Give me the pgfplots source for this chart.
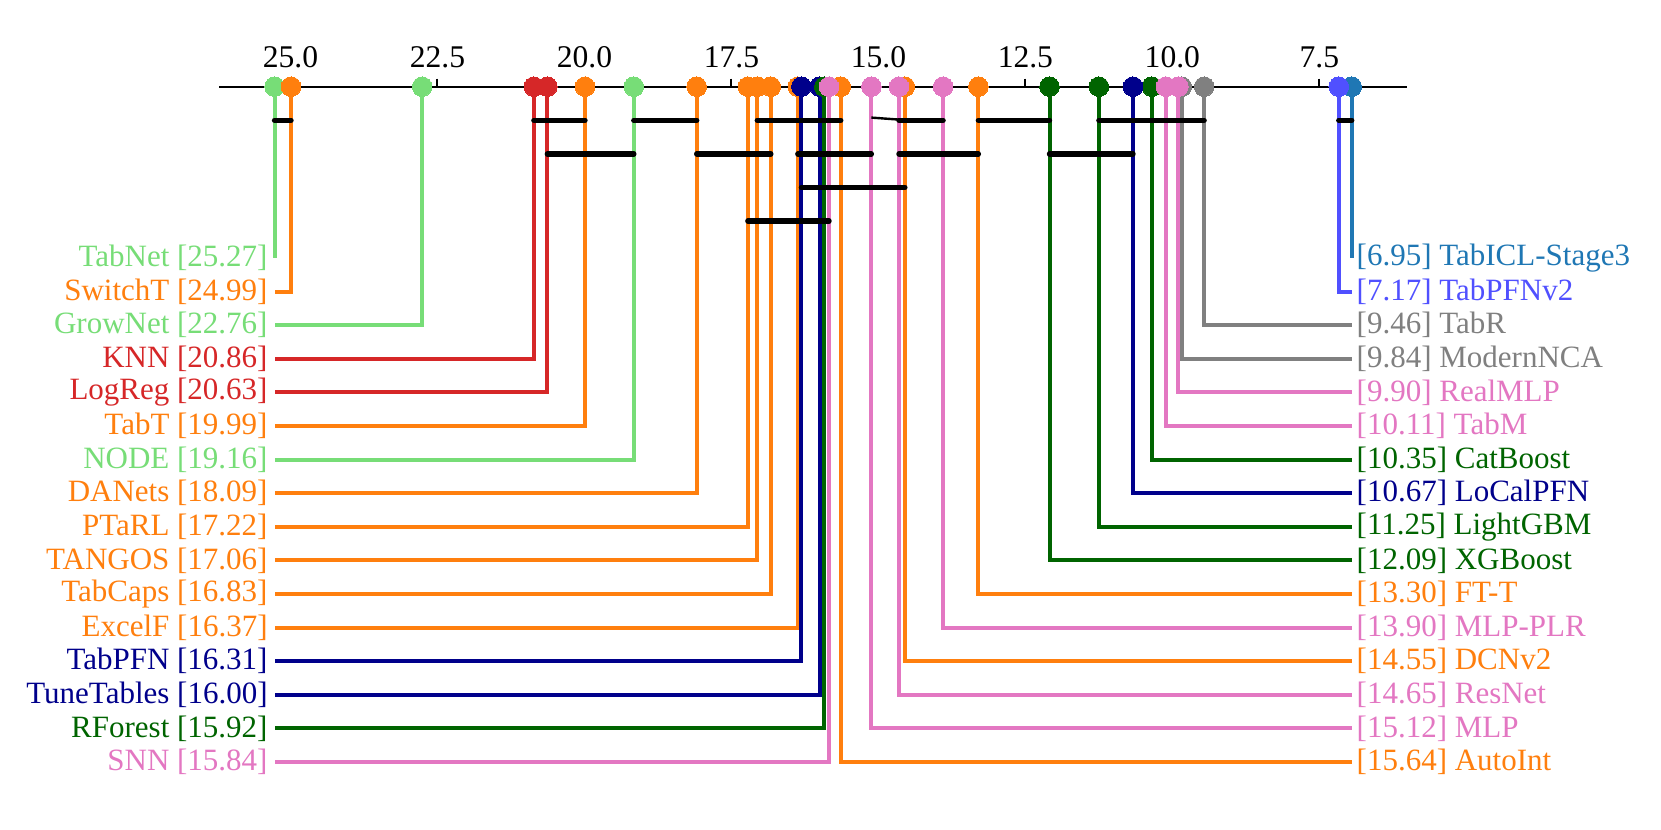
\documentclass[border=0pt]{standalone}
\usepackage{pgfplots}
\pgfplotsset{compat=1.18}
\usepackage{fontspec}
\setmainfont{Liberation Serif}
\definecolor{lg}{RGB}{119,221,119}
\definecolor{orn}{RGB}{255,127,14}
\definecolor{rd}{RGB}{214,39,40}
\definecolor{pk}{RGB}{227,119,194}
\definecolor{nv}{RGB}{0,0,139}
\definecolor{dg}{RGB}{0,100,0}
\definecolor{bl}{RGB}{80,80,255}
\definecolor{st}{RGB}{31,119,180}
\definecolor{gr}{RGB}{128,128,128}
% value, y, colour, name
\newcommand{\stemL}[4]{%
  \addplot[#3, line width=2pt] coordinates {(#1,0) (#1,#2) (25.27,#2)}
    node[pos=1, anchor=east, inner sep=0pt, xshift=-2.5pt, text=#3] {#4 [#1]};
}
\newcommand{\stemR}[4]{%
  \addplot[#3, line width=2pt] coordinates {(#1,0) (#1,#2) (6.95,#2)}
    node[pos=1, anchor=west, inner sep=0pt, xshift=1.5pt, text=#3] {[#1] #4};
}
\newcommand{\dotm}[2]{%
  \addplot[only marks, mark=*, mark size=4.9pt, mark options={fill=#2, draw=#2, line width=0pt}] coordinates {(#1,0)};
}
\newcommand{\cbar}[3]{%
  \addplot[black, line width=2.7pt, line cap=round] coordinates {(#1,#3) (#2,#3)};
}
\begin{document}
\fontsize{15.5}{18}\selectfont
\begin{tikzpicture}
\begin{axis}[
  x dir=reverse,
  x=29.4pt, y=16.8pt,
  xmin=6.01, xmax=26.21, ymin=-21, ymax=0,
  axis x line*=top,
  hide y axis,
  clip=false,
  xtick={7.5,10,12.5,15,17.5,20,22.5,25},
  xtick align=outside,
  major tick length=4pt,
  x axis line style={line width=1pt},
  every tick/.style={black, line width=1pt},
  xticklabel style={/pgf/number format/.cd, fixed, fixed zerofill, precision=1, assume math mode=true},
  tick label style={font=\fontsize{15.8}{18}\selectfont},
]
% stems with labels
\stemL{25.27}{-5.1}{lg}{TabNet}
\stemL{24.99}{-6.1}{orn}{SwitchT}
\stemL{22.76}{-7.1}{lg}{GrowNet}
\stemL{20.86}{-8.1}{rd}{KNN}
\stemL{20.63}{-9.1}{rd}{LogReg}
\stemL{19.99}{-10.1}{orn}{TabT}
\stemL{19.16}{-11.1}{lg}{NODE}
\stemL{18.09}{-12.1}{orn}{DANets}
\stemL{17.22}{-13.1}{orn}{PTaRL}
\stemL{17.06}{-14.1}{orn}{TANGOS}
\stemL{16.83}{-15.1}{orn}{TabCaps}
\stemL{16.37}{-16.1}{orn}{ExcelF}
\stemL{16.31}{-17.1}{nv}{TabPFN}
\stemL{16.00}{-18.1}{nv}{TuneTables}
\stemL{15.92}{-19.1}{dg}{RForest}
\stemL{15.84}{-20.1}{pk}{SNN}
\stemR{6.95}{-5.1}{st}{TabICL-Stage3}
\stemR{7.17}{-6.1}{bl}{TabPFNv2}
\stemR{9.46}{-7.1}{gr}{TabR}
\stemR{9.84}{-8.1}{gr}{ModernNCA}
\stemR{9.90}{-9.1}{pk}{RealMLP}
\stemR{10.11}{-10.1}{pk}{TabM}
\stemR{10.35}{-11.1}{dg}{CatBoost}
\stemR{10.67}{-12.1}{nv}{LoCalPFN}
\stemR{11.25}{-13.1}{dg}{LightGBM}
\stemR{12.09}{-14.1}{dg}{XGBoost}
\stemR{13.30}{-15.1}{orn}{FT-T}
\stemR{13.90}{-16.1}{pk}{MLP-PLR}
\stemR{14.55}{-17.1}{orn}{DCNv2}
\stemR{14.65}{-18.1}{pk}{ResNet}
\stemR{15.12}{-19.1}{pk}{MLP}
\stemR{15.64}{-20.1}{orn}{AutoInt}
% cliques
\cbar{25.27}{24.99}{-1}
\cbar{20.86}{19.99}{-1}
\cbar{19.16}{18.09}{-1}
\cbar{17.06}{15.64}{-1}
\addplot[black, line width=1.2pt] coordinates {(15.12,-0.92) (14.65,-0.98)};
\cbar{14.65}{13.90}{-1}
\cbar{13.30}{12.09}{-1}
\cbar{11.25}{9.46}{-1}
\cbar{7.17}{6.95}{-1}
\cbar{20.63}{19.16}{-2}
\cbar{18.09}{16.83}{-2}
\cbar{16.37}{15.12}{-2}
\cbar{14.65}{13.30}{-2}
\cbar{12.09}{10.67}{-2}
\cbar{16.31}{14.55}{-3}
\cbar{17.22}{15.84}{-4}
% markers
\dotm{6.95}{st}
\dotm{7.17}{bl}
\dotm{9.46}{gr}
\dotm{9.84}{gr}
\dotm{10.35}{dg}
\dotm{10.67}{nv}
\dotm{11.25}{dg}
\dotm{12.09}{dg}
\dotm{9.90}{pk}
\dotm{10.11}{pk}
\dotm{13.30}{orn}
\dotm{13.90}{pk}
\dotm{14.55}{orn}
\dotm{14.65}{pk}
\dotm{15.12}{pk}
\dotm{15.64}{orn}
\dotm{25.27}{lg}
\dotm{24.99}{orn}
\dotm{22.76}{lg}
\dotm{20.86}{rd}
\dotm{20.63}{rd}
\dotm{19.99}{orn}
\dotm{19.16}{lg}
\dotm{18.09}{orn}
\dotm{17.22}{orn}
\dotm{17.06}{orn}
\dotm{16.83}{orn}
\dotm{16.37}{orn}
\dotm{16.31}{nv}
\dotm{16.00}{nv}
\dotm{15.92}{dg}
\dotm{15.84}{pk}
\path (axis cs:29.94,2.58) rectangle (axis cs:1.69,-22.12);
\end{axis}
\end{tikzpicture}
\end{document}
